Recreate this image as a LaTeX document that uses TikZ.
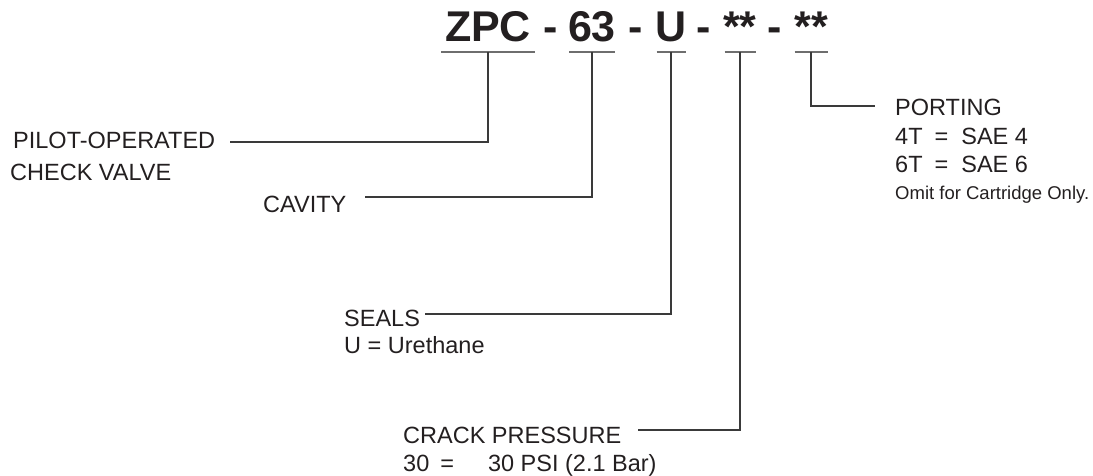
\documentclass[tikz,border=0pt]{standalone}
\usepackage{fontspec}
\setmainfont{Liberation Sans}
\newfontfamily\codefont{Liberation Sans}
\usepackage{xcolor}
\usepackage{tikz}
\usetikzlibrary{positioning}

\definecolor{inkgray}{HTML}{231F20}
\definecolor{rulegray}{HTML}{6E6E6E}
\definecolor{leadgray}{HTML}{3A3A3A}

\begin{document}
\begin{tikzpicture}[x=1pt, y=-1pt, inkgray,
    label/.style={anchor=base west, inner sep=0pt, font=\fontsize{23.5}{28}\selectfont},
    note/.style={anchor=base west, inner sep=0pt, font=\fontsize{18.5}{22}\selectfont},
    code/.style={anchor=base, inner sep=0pt, font=\codefont\bfseries\fontsize{43}{46}\selectfont},
    underline/.style={rulegray, line width=1.8pt},
    leader/.style={leadgray, line width=1.1pt}]

\useasboundingbox (0,0) rectangle (1093,476);

% ── Model code ────────────────────────────────────────────────────
\foreach \name/\txt/\x/\w in {zpc/ZPC/488/94, cav/63/592/46, seal/U/671/29,
                              crack/{**}/740/31, port/{**}/811/33} {
    \node[code] (\name) at (\x, 42) {\txt};
    \coordinate (\name-u) at (\x, 52);
    \draw[underline] (\x-\w/2, 52) -- (\x+\w/2, 52);
}
\foreach \x [count=\i] in {551, 636, 704, 775}
    \node[code] (dash\i) at (\x, 42) {-};

% ── Left labels ───────────────────────────────────────────────────
\node[label] (pilot) at (13, 149) {PILOT-OPERATED};
\node[label] (check) at (10, 181) {CHECK VALVE};
\coordinate (pilot-end) at (230, 142);

\node[label] (cavity) at (263, 212) {CAVITY};
\coordinate (cav-end) at (365, 197);

\node[label] (seals) at (344, 326) {SEALS};
\node[label] (urethane) at (344, 353) {U = Urethane};
\coordinate (seal-end) at (425, 314);

\node[label] (crackp) at (403, 443) {CRACK PRESSURE};
\node[label] (psi) at (403, 471) {30\hspace{11pt}=\hspace{34pt}30 PSI (2.1 Bar)};
\coordinate (crack-end) at (638, 430);

% ── Right labels ──────────────────────────────────────────────────
\node[label] (porting) at (895, 116) {PORTING};
\node[label] (sae4) at (895, 145) {4T\hspace{12pt}=\hspace{13pt}SAE 4};
\node[label] (sae6) at (895, 173) {6T\hspace{12pt}=\hspace{13pt}SAE 6};
\node[note] (omit) at (895, 200) {Omit for Cartridge Only.};
\coordinate (port-end) at (875, 106);

% Leaders
\draw[leader] (zpc-u) |- (pilot-end);
\draw[leader] (cav-u) |- (cav-end);
\draw[leader] (seal-u) |- (seal-end);
\draw[leader] (crack-u) |- (crack-end);
\draw[leader] (port-u) |- (port-end);

\end{tikzpicture}
\end{document}
